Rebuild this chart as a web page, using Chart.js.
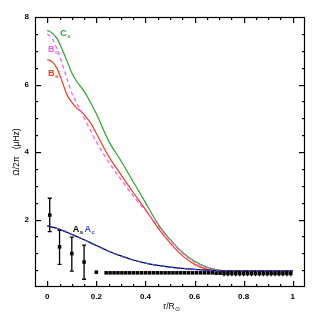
<!DOCTYPE html>
<html>
<head>
<meta charset="utf-8">
<script src="https://cdn.jsdelivr.net/npm/chart.js@4.4.0/dist/chart.umd.min.js"></script>
<style>
html,body{margin:0;padding:0;background:#fff}
#wrap{width:322px;height:322px}
</style>
</head>
<body>
<div id="wrap"><canvas id="rotChart" width="322" height="322"></canvas></div>
<script>
'use strict';
// model curves, sampled on a common radius grid
const radius=[0,0.02,0.04,0.06,0.08,0.1,0.12,0.14,0.16,0.18,0.2,0.25,0.3,0.35,0.4,0.45,0.5,0.55,0.6,0.65,0.7,0.72,0.8,0.9,1.0];
const omegaCs=[7.61,7.52,7.36,7.05,6.70,6.34,6.09,5.90,5.68,5.41,5.13,4.33,3.74,3.12,2.50,1.88,1.41,1.03,0.76,0.59,0.50,0.48,0.47,0.47,0.47];
const omegaBc=[7.50,7.36,7.05,6.62,6.18,5.74,5.46,5.17,4.87,4.58,4.30,3.70,3.19,2.70,2.26,1.82,1.39,1.01,0.74,0.58,0.50,0.48,0.47,0.47,0.47];
const omegaBs=[6.74,6.67,6.47,6.10,5.70,5.47,5.30,5.19,5.02,4.82,4.55,3.87,3.33,2.80,2.30,1.76,1.31,0.93,0.67,0.53,0.48,0.47,0.47,0.47,0.47];

const radiusA=[0,0.05,0.1,0.15,0.2,0.25,0.3,0.35,0.4,0.45,0.5,0.55,0.6,0.65,0.7,0.75,0.8,0.9,1.0];
const omegaAs=[1.81,1.71,1.56,1.40,1.23,1.06,0.92,0.80,0.71,0.64,0.59,0.55,0.52,0.50,0.48,0.47,0.47,0.47,0.47];
const omegaAc=[1.81,1.71,1.56,1.40,1.23,1.06,0.92,0.80,0.71,0.64,0.59,0.55,0.52,0.50,0.48,0.47,0.47,0.47,0.47];

// helioseismic inversion points
const obsR=[0.01,0.05,0.1,0.15,0.2,
  0.24,0.256,0.272,0.288,0.304,0.32,0.336,0.352,0.368,0.384,0.40,0.416,0.432,0.448,0.464,0.48,0.496,0.512,0.528,0.544,
  0.56,0.576,0.592,0.608,0.624,0.64,0.656,0.672,0.688,0.704,0.72,0.736,0.752,0.768,0.784,0.80,0.816,0.832,0.848,0.864,
  0.88,0.896,0.912,0.928,0.944,0.96,0.976,0.992];
const obsOmega=[2.13,1.19,0.99,0.74,0.44,
  0.42,0.42,0.42,0.42,0.42,0.42,0.42,0.42,0.42,0.42,0.42,0.42,0.42,0.42,0.42,0.42,0.42,0.42,0.42,0.42,
  0.42,0.42,0.42,0.42,0.42,0.42,0.42,0.42,0.41,0.41,0.40,0.40,0.40,0.40,0.40,0.40,0.40,0.40,0.40,0.40,
  0.40,0.40,0.40,0.40,0.40,0.40,0.40,0.40];
const obsLow=[1.64,0.67,0.47,0.23,null,
  null,null,null,null,null,null,null,null,null,null,null,null,null,null,null,null,null,null,null,null,
  null,null,null,null,null,null,null,null,null,null,0.32,0.32,0.32,0.32,0.32,0.32,0.32,0.32,0.32,0.32,
  0.32,0.32,0.32,0.32,0.32,0.32,0.32,0.32];
const obsHigh=[2.63,1.68,1.48,1.24,null,
  null,null,null,null,null,null,null,null,null,null,null,null,null,null,null,null,null,null,null,null,
  null,null,null,null,null,null,null,null,null,null,0.49,0.49,0.49,0.49,0.49,0.49,0.49,0.49,0.49,0.49,
  0.49,0.49,0.49,0.49,0.49,0.49,0.49,0.49];

// tick positions and labels
const xTickValues=[0,0.05,0.1,0.15,0.2,0.25,0.3,0.35,0.4,0.45,0.5,0.55,0.6,0.65,0.7,0.75,0.8,0.85,0.9,0.95,1];
const xMajor=[0,0.2,0.4,0.6,0.8,1];
const xTickLabels=['0','0.2','0.4','0.6','0.8','1'];
const yTickValues=[0.5,1,1.5,2,2.5,3,3.5,4,4.5,5,5.5,6,6.5,7,7.5];
const yMajor=[2,4,6,8];
const yTickLabels=['2','4','6','8'];

const FONT='"Liberation Sans", Arial, sans-serif';

function pts(xs,ys){return xs.map((x,i)=>({x,y:ys[i]}));}
function majorIndex(v,list){return list.findIndex(m=>Math.abs(m-v)<1e-6);}

const curveLabels=[
  {x:0.053,y:7.44,main:'C',sub:'s',color:'#2aa52a'},
  {x:0.003,y:6.97,main:'B',sub:'c',color:'#ff55ff'},
  {x:0.003,y:6.26,main:'B',sub:'s',color:'#ff3a1c'},
  {x:0.104,y:1.62,main:'A',sub:'s',color:'#000000'},
  {x:0.152,y:1.62,main:'A',sub:'c',color:'#3a4cff'}
];

const framePlugin={
  id:'frame',
  afterDraw(chart){
    const ctx=chart.ctx,a=chart.chartArea,x=chart.scales.x,y=chart.scales.y;
    ctx.save();
    ctx.setLineDash([]);
    // error bars
    ctx.strokeStyle='#000';
    ctx.lineWidth=1.3;
    obsR.forEach((r,i)=>{
      if(obsLow[i]==null)return;
      const px=x.getPixelForValue(r);
      const lo=y.getPixelForValue(obsLow[i]);
      const hi=y.getPixelForValue(obsHigh[i]);
      const cap=i<4?2:0;
      ctx.beginPath();
      ctx.moveTo(px,lo);ctx.lineTo(px,hi);
      if(cap){ctx.moveTo(px-cap,lo);ctx.lineTo(px+cap,lo);ctx.moveTo(px-cap,hi);ctx.lineTo(px+cap,hi);}
      ctx.stroke();
    });
    // frame
    ctx.lineWidth=1.2;
    ctx.strokeStyle='#000';
    ctx.strokeRect(a.left+0.5,a.top+0.5,a.right-a.left-1,a.bottom-a.top-1);
    // inward tick marks on all four sides, as filled bars
    ctx.fillStyle='#000';
    xTickValues.forEach(v=>{
      const px=Math.round(x.getPixelForValue(v));
      const len=majorIndex(v,xMajor)>=0?6:3;
      ctx.fillRect(px,a.bottom-len,1.2,len);
      ctx.fillRect(px,a.top,1.2,len);
    });
    yTickValues.forEach(v=>{
      const py=Math.round(y.getPixelForValue(v));
      const len=majorIndex(v,yMajor)>=0?6:3;
      ctx.fillRect(a.left,py,len,1.2);
      ctx.fillRect(a.right-len,py,len,1.2);
    });
    // curve labels
    curveLabels.forEach(l=>{
      const px=x.getPixelForValue(l.x), py=y.getPixelForValue(l.y);
      ctx.fillStyle=l.color;
      ctx.textBaseline='alphabetic';
      ctx.textAlign='left';
      ctx.font='bold 9px '+FONT;
      ctx.fillText(l.main,px,py);
      const w=ctx.measureText(l.main).width;
      ctx.font='bold 6px '+FONT;
      ctx.fillText(l.sub,px+w+0.5,py+2);
    });
    // axis titles
    ctx.fillStyle='#000';
    ctx.textBaseline='alphabetic';
    ctx.font='8.5px '+FONT;
    const main='r/R';
    ctx.textAlign='left';
    const mw=ctx.measureText(main).width;
    const cx=(a.left+a.right)/2+1;
    ctx.fillText(main,cx-mw/2-2,309);
    ctx.font='6px '+FONT;
    ctx.fillText('\u2299',cx+mw/2-2,311);
    ctx.translate(19,152);
    ctx.rotate(-Math.PI/2);
    ctx.font='8.5px '+FONT;
    ctx.textAlign='center';
    ctx.fillText('\u03A9/2\u03C0   (\u03BCHz)',0,0);
    ctx.restore();
  }
};

const config={
  type:'scatter',
  data:{datasets:[
    {label:'Ac',data:pts(radiusA,omegaAc),showLine:true,borderColor:'#3a4cff',borderWidth:1.3,borderDash:[5,3],pointRadius:0,cubicInterpolationMode:'monotone',order:0},
    {label:'As',data:pts(radiusA,omegaAs),showLine:true,borderColor:'#000000',borderWidth:1.3,pointRadius:0,cubicInterpolationMode:'monotone',order:1},
    {label:'Bc',data:pts(radius,omegaBc),showLine:true,borderColor:'#ff55ff',borderWidth:1.2,borderDash:[4,3],pointRadius:0,cubicInterpolationMode:'monotone',order:2},
    {label:'Bs',data:pts(radius,omegaBs),showLine:true,borderColor:'#ff3a1c',borderWidth:1.2,pointRadius:0,cubicInterpolationMode:'monotone',order:3},
    {label:'Cs',data:pts(radius,omegaCs),showLine:true,borderColor:'#2aa52a',borderWidth:1.2,pointRadius:0,cubicInterpolationMode:'monotone',order:4},
    {label:'obs',data:pts(obsR,obsOmega),showLine:false,pointStyle:'rect',pointRadius:2.5,backgroundColor:'#000',borderColor:'#000',borderWidth:0,order:-1}
  ]},
  options:{
    responsive:false,
    animation:false,
    events:[],
    layout:{padding:{top:17,right:17,left:0,bottom:0}},
    plugins:{legend:{display:false},tooltip:{enabled:false}},
    scales:{
      x:{type:'linear',min:-0.05,max:1.05,
        afterFit:s=>{s.height=35;},
        afterBuildTicks:s=>{s.ticks=xMajor.map(v=>({value:v}));},
        grid:{display:false,drawTicks:false},border:{display:false},
        ticks:{autoSkip:false,maxRotation:0,padding:5,color:'#000',font:{family:FONT,size:8,weight:'bold'},
          callback:v=>xTickLabels[majorIndex(v,xMajor)]}},
      y:{type:'linear',min:0,max:8,
        afterFit:s=>{s.width=35;},
        afterBuildTicks:s=>{s.ticks=yMajor.map(v=>({value:v}));},
        grid:{display:false,drawTicks:false},border:{display:false},
        ticks:{autoSkip:false,padding:6,color:'#000',font:{family:FONT,size:8,weight:'bold'},
          callback:v=>yTickLabels[majorIndex(v,yMajor)]}}
    }
  },
  plugins:[framePlugin]
};

new Chart(document.getElementById('rotChart'),config);
</script>
</body>
</html>
